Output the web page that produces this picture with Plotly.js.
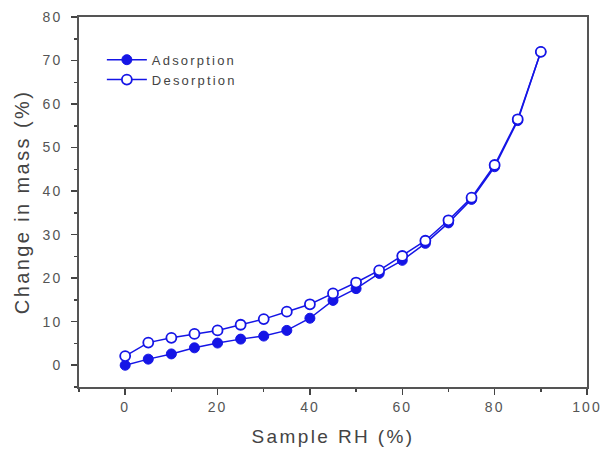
<!DOCTYPE html>
<html>
<head>
<meta charset="utf-8">
<script src="https://cdn.plot.ly/plotly-3.0.1.min.js"></script>
<style>
html,body{margin:0;padding:0;background:#fff;}
#chart{width:603px;height:462px;}
#chart .xtick text, #chart .ytick text{letter-spacing:2px;}
#chart .xtitle{letter-spacing:2.4px;}
#chart .ytitle{letter-spacing:2.4px;}
#chart .legendtext{letter-spacing:2.2px;}
#chart .legend .scrollbox, #chart .legend g{clip-path:none !important;}
</style>
</head>
<body>
<div id="chart"></div>
<script>
const rh = [0, 5, 10, 15, 20, 25, 30, 35, 40, 45, 50, 55, 60, 65, 70, 75, 80, 85, 90];
const adsorption = [0.0, 1.4, 2.6, 4.0, 5.1, 6.0, 6.7, 8.0, 10.8, 14.9, 17.6, 21.1, 24.1, 28.0, 32.7, 38.1, 45.6, 56.2, 72.0];
const desorption = [2.1, 5.2, 6.3, 7.2, 8.0, 9.3, 10.6, 12.3, 14.0, 16.5, 19.0, 21.8, 25.1, 28.6, 33.3, 38.5, 46.0, 56.5, 72.0];
const seriesNames = ["Adsorption", "Desorption"];
const xTicks = [0, 20, 40, 60, 80, 100];
const yTicks = [0, 10, 20, 30, 40, 50, 60, 70, 80];

const blue = "#1515e6";
const traces = [
  {x: rh, y: adsorption, name: seriesNames[0], type: "scatter", mode: "lines+markers",
   line: {color: blue, width: 1.5},
   marker: {symbol: "circle", size: 10, color: blue, line: {color: blue, width: 1}}},
  {x: rh, y: desorption, name: seriesNames[1], type: "scatter", mode: "lines+markers",
   line: {color: blue, width: 1.5},
   marker: {symbol: "circle", size: 10, color: "#ffffff", line: {color: blue, width: 1.8}}}
];

const fam = "Liberation Sans, Arial, sans-serif";
const tickFont = {family: fam, size: 14, color: "#555"};
const layout = {
  width: 603, height: 462,
  margin: {l: 79, r: 16, t: 17, b: 75},
  paper_bgcolor: "#fff", plot_bgcolor: "#fff",
  showlegend: true,
  legend: {x: 0.045, y: 0.925, xanchor: "left", yanchor: "top", bgcolor: "rgba(0,0,0,0)",
           itemwidth: 40, tracegroupgap: 0,
           font: {family: fam, size: 13, color: "#444"}},
  xaxis: {
    range: [-10, 100], tickvals: xTicks, ticks: "outside", ticklen: 6, tickwidth: 1.5,
    tickcolor: "#444", showgrid: false, zeroline: false,
    showline: true, linecolor: "#555", linewidth: 2, mirror: true,
    minor: {dtick: 10, ticks: "outside", ticklen: 3, tickcolor: "#444"},
    tickfont: tickFont,
    title: {text: "Sample RH (%)", font: {family: fam, size: 19, color: "#444"}, standoff: 16}
  },
  yaxis: {
    range: [-5, 80], tickvals: yTicks, ticks: "outside", ticklen: 6, tickwidth: 1.5,
    tickcolor: "#444", showgrid: false, zeroline: false,
    showline: true, linecolor: "#555", linewidth: 2, mirror: true,
    ticklabelstandoff: 6,
    minor: {dtick: 5, ticks: "outside", ticklen: 3, tickcolor: "#444"},
    tickfont: tickFont,
    title: {text: "Change in mass (%)", font: {family: fam, size: 20, color: "#444"}, standoff: 12}
  }
};
Plotly.newPlot("chart", traces, layout, {staticPlot: true, displayModeBar: false});
</script>
</body>
</html>
